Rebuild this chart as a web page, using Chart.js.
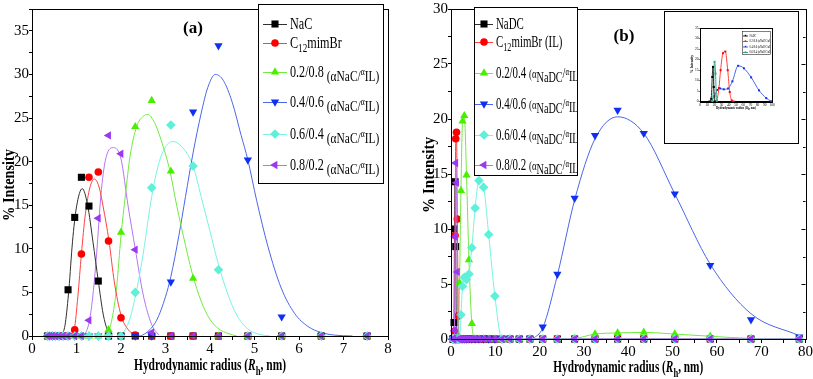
<!DOCTYPE html>
<html>
<head>
<meta charset="utf-8">
<title>Hydrodynamic radius distributions</title>
<script src="https://cdn.jsdelivr.net/npm/chart.js@4.4.1/dist/chart.umd.min.js"></script>
<style>
  html, body { margin: 0; padding: 0; background: #fff; }
  #page { position: relative; width: 813px; height: 379px; overflow: hidden; background: #fff; }
  .panel { position: absolute; top: 0; height: 379px; }
  #insetBox { position: absolute; left: 664px; top: 11px; width: 135px; height: 133px;
              border: 1.5px solid #000; box-sizing: border-box; background: #fff; }
  #insetBox div { position: absolute; left: 0; top: 0; width: 100%; height: 100%; }
</style>
</head>
<body>
<div id="page">
  <div class="panel" style="left:0;width:405px"><canvas id="chartA"></canvas></div>
  <div class="panel" style="left:405px;width:408px"><canvas id="chartB"></canvas></div>
  <div id="insetBox"><div><canvas id="chartInset"></canvas></div></div>
</div>
<script>
// ---------- panel (a): NaC + C12mimBr, size bins (nm) and % intensity ----------
const binsA  = [0.35, 0.40, 0.46, 0.53, 0.61, 0.70, 0.81, 0.96, 1.11, 1.28, 1.49, 1.72, 2.00, 2.32, 2.69, 3.12, 3.62, 4.19, 4.85, 5.61, 6.50, 7.53];
const nacA   = [0, 0, 0, 0, 0, 0, 5.3, 13.6, 18.2, 14.9, 6.3, 0, 0, 0, 0, 0, 0, 0, 0, 0, 0, 0];
const ilA    = [0, 0, 0, 0, 0, 0, 0, 0.7, 9.4, 18.2, 18.8, 10.9, 2.1, 0.1, 0, 0, 0, 0, 0, 0, 0, 0];
const mix28A = [0, 0, 0, 0, 0, 0, 0, 0, 0, 0, 0, 0.7, 11.9, 24.0, 27.0, 18.9, 6.6, 0, 0, 0, 0, 0];
const mix46A = [0, 0, 0, 0, 0, 0, 0, 0, 0, 0, 0, 0, 0, 0, 0, 6.2, 25.7, 33.3, 20.2, 2.2, 0, 0];
const mix64A = [0, 0, 0, 0, 0, 0, 0, 0, 0, 0, 0, 0, 0, 5.0, 17.0, 24.2, 19.5, 7.6, 0, 0, 0, 0];
const mix82A = [0, 0, 0, 0, 0, 0, 0, 0, 0, 1.8, 13.5, 23.0, 20.9, 9.9, 0.4, 0, 0, 0, 0, 0, 0, 0];

// fitted curves of panel (a)
const fitNacX = [0.68, 0.75, 0.83, 0.91, 1.00, 1.13, 1.25, 1.37, 1.49, 1.60, 1.70, 1.78];
const fitNacY = [0, 1.5, 5.4, 10.8, 14.8, 16.9, 15.0, 10.8, 6.3, 2.5, 0.6, 0];
const fitIlX  = [0.88, 0.95, 1.03, 1.11, 1.20, 1.30, 1.40, 1.50, 1.60, 1.73, 1.85, 2.00, 2.15, 2.30, 2.45];
const fitIlY  = [0, 0.7, 4.5, 9.4, 14.0, 17.0, 18.0, 17.2, 14.8, 10.9, 6.2, 2.4, 0.8, 0.2, 0];
const fit28X  = [1.60, 1.70, 1.80, 1.90, 2.00, 2.10, 2.20, 2.35, 2.50, 2.60, 2.75, 2.90, 3.10, 3.25, 3.40, 3.60, 3.80, 4.00, 4.20, 4.40, 4.60];
const fit28Y  = [0, 0.4, 2.0, 5.5, 11.5, 16.2, 20.5, 24.0, 25.2, 25.4, 24.5, 22.5, 18.9, 15.0, 11.5, 7.2, 4.0, 1.9, 0.8, 0.3, 0];
const fit46X  = [2.45, 2.60, 2.80, 3.00, 3.12, 3.30, 3.45, 3.62, 3.80, 3.95, 4.12, 4.30, 4.50, 4.70, 4.85, 5.05, 5.30, 5.60, 5.90, 6.20, 6.50, 6.80, 7.20];
const fit46Y  = [0, 0.5, 1.8, 4.5, 6.8, 11.5, 16.0, 21.0, 25.5, 28.5, 30.0, 29.3, 26.8, 23.0, 20.2, 15.5, 10.3, 5.5, 2.6, 1.1, 0.4, 0.1, 0];
const fit64X  = [2.00, 2.10, 2.20, 2.35, 2.50, 2.69, 2.85, 3.00, 3.17, 3.35, 3.50, 3.62, 3.80, 4.00, 4.19, 4.40, 4.60, 4.85, 5.10, 5.35];
const fit64Y  = [0, 0.8, 2.0, 5.2, 9.5, 16.0, 19.8, 21.7, 22.3, 21.8, 20.8, 19.5, 16.0, 12.0, 8.2, 4.8, 2.4, 0.8, 0.2, 0];
const fit82X  = [1.15, 1.22, 1.30, 1.38, 1.45, 1.56, 1.67, 1.83, 2.00, 2.16, 2.32, 2.50, 2.69, 2.85];
const fit82Y  = [0, 0.5, 2.0, 5.2, 9.3, 16.8, 20.6, 21.6, 20.3, 14.9, 10.0, 4.7, 1.3, 0.1];

// ---------- panel (b): NaDC + C12mimBr ----------
const binsB = [0.43, 0.50, 0.59, 0.68, 0.79,  0.92, 1.07, 1.24, 1.43, 1.66,  1.93, 2.25, 2.60, 3.00, 3.50,
               4.05, 4.70, 5.45, 6.30, 7.35,  8.50, 9.90, 11.5, 13.3, 15.4,  17.8, 20.7, 24.0, 27.9, 32.5,
               37.6, 43.5, 50.5, 58.5, 67.7,  78.6];
const nadcB  = [0, 0, 0, 1.5, 10.0,  14.3, 8.4, 0, 0, 0,  0, 0, 0, 0, 0,  0, 0, 0, 0, 0,  0, 0, 0, 0, 0,  0, 0, 0, 0, 0,  0, 0, 0, 0, 0,  0];
const ilB    = [0, 0, 0, 0, 0.7,  9.4, 18.2, 18.8, 10.9, 2.1,  0, 0, 0, 0, 0,  0, 0, 0, 0, 0,  0, 0, 0, 0, 0,  0, 0, 0, 0, 0,  0, 0, 0, 0, 0,  0];
const mix24B = [0, 0, 0, 0, 0,  0, 0, 0, 0, 0.3,  5.1, 13.5, 19.8, 20.3, 14.9,  7.2, 1.4, 0, 0, 0,  0, 0, 0, 0, 0,  0, 0, 0, 0.05, 0.45,  0.55, 0.6, 0.45, 0.25, 0.05,  0];
const mix46B = [0, 0, 0, 0, 0,  0, 0, 0, 0, 0,  0, 0, 0, 0, 0,  0, 0, 0, 0, 0,  0, 0, 0, 0, 0,  0, 1.1, 5.9, 12.8, 18.5,  20.8, 18.7, 13.2, 6.7, 1.75,  0.2];
const mix64B = [0, 0, 0, 0, 0,  0, 0, 0, 0, 0,  0, 2.2, 4.8, 5.6, 5.4,  5.9, 8.3, 11.9, 14.4, 13.8,  9.5, 3.9, 0, 0, 0,  0, 0, 0, 0, 0,  0, 0, 0, 0, 0,  0];
const mix82B = [0, 0, 0, 0, 0.8,  9.3, 16.0, 14.2, 6.1, 0,  0, 0, 0, 0, 0,  0, 0, 0, 0, 0,  0, 0, 0, 0, 0,  0, 0, 0, 0, 0,  0, 0, 0, 0, 0,  0];
const fitB46X = [18.5, 20.7, 24.0, 28.0, 32.5, 37.6, 43.5, 50.5, 58.5, 67.7, 78.6];
const fitB46Y = [0, 1.0, 5.8, 12.8, 18.2, 20.2, 18.7, 13.2, 6.8, 2.3, 0.3];

// ---------- inset of panel (b) ----------
const insBlackX = [13, 15.5, 17, 18, 19.2, 20.6];
const insBlackY = [0, 1.3, 11.7, 16.5, 6.9, 0];
const insTealX  = [17.5, 18.8, 20.2, 21.6, 22.8];
const insTealY  = [0, 7, 18.9, 13.3, 0];
const insRedX   = [23.5, 26.3, 28.6, 31.9, 35.2, 38.5, 41.3, 44.1, 46.9];
const insRedY   = [0, 6.4, 14.9, 23.0, 23.8, 14.9, 4.5, 0.5, 0];
const insBlueX  = [16, 20, 24, 28, 33, 39, 45, 53, 61, 71, 82, 92, 99];
const insBlueY  = [0, 2.5, 5.5, 6.2, 5.8, 6.2, 9.6, 17.0, 15.8, 11.5, 5.3, 1.6, 0.1];

// colours
const cBlack = '#000000', lBlack = '#303030';
const cRed = '#ff0000', lRed = '#ff4040';
const cGreen = '#48f000', lGreen = '#70ea40';
const cBlue = '#0f30f0', lBlue = '#4a66ea';
const cCyan = '#5ef0d8', lCyan = '#78f2e2';
const cPurple = '#9b38f0', lPurple = '#b574f2';
const cTeal = '#2fa884';

const serif = "'Liberation Serif', 'Times New Roman', serif";
Chart.defaults.font.family = serif;
Chart.defaults.color = '#000';

function pts(xs, ys) {
  return xs.map((x, i) => ({ x: x, y: ys[i] }));
}

function fontStr(size, bold, italic) {
  return (italic ? 'italic ' : '') + (bold ? 'bold ' : '') + size + 'px ' + serif;
}

// text with sub/superscript pieces, squeezed horizontally
function drawRich(ctx, x, y, parts, opt) {
  const base = opt.size || 15;
  let total = 0;
  parts.forEach(p => {
    ctx.font = fontStr(p.size || base, p.b !== undefined ? p.b : opt.bold, p.i);
    p.w = ctx.measureText(p.t).width;
    total += p.w;
  });
  const sx = opt.width ? opt.width / total : (opt.sx || 1);
  ctx.save();
  ctx.translate(x, y);
  if (opt.rotate) ctx.rotate(opt.rotate);
  ctx.scale(sx, 1);
  ctx.textAlign = 'left';
  ctx.textBaseline = 'alphabetic';
  ctx.fillStyle = '#000';
  let cx = opt.center ? -total / 2 : 0;
  parts.forEach(p => {
    ctx.font = fontStr(p.size || base, p.b !== undefined ? p.b : opt.bold, p.i);
    ctx.fillText(p.t, cx, p.dy || 0);
    cx += p.w;
  });
  ctx.restore();
}

function markers(xs, ys, color, style, rot, r, order, lineColor) {
  return {
    data: pts(xs, ys), order: order, clip: false,
    showLine: !!lineColor, borderColor: lineColor || color, borderWidth: 1,
    cubicInterpolationMode: 'monotone',
    pointStyle: style, pointRotation: rot, pointRadius: r,
    pointBackgroundColor: color, pointBorderColor: color, pointBorderWidth: 0
  };
}

function fitLine(xs, ys, color, order) {
  return {
    data: pts(xs, ys), order: order, clip: false, showLine: true,
    borderColor: color, borderWidth: 1, pointRadius: 0,
    cubicInterpolationMode: 'monotone'
  };
}

function axis(min, max, step, major, o) {
  return {
    type: 'linear', min: min, max: max,
    ticks: {
      stepSize: step, autoSkip: false, maxRotation: 0, padding: o.pad || 0, color: '#000',
      font: { family: serif, size: o.fs },
      callback: v => Math.abs(v / major - Math.round(v / major)) < 1e-6 ? String(Math.round(v * 100) / 100) : ''
    },
    grid: { drawOnChartArea: false, drawTicks: true, tickLength: o.tl, color: '#000', tickColor: '#000', tickWidth: o.tw || 1 },
    border: { display: true, color: '#000', width: 1 },
    afterFit: o.fit
  };
}

function drawLegend(ctx, L) {
  ctx.save();
  ctx.fillStyle = '#fff';
  ctx.fillRect(L.x0, L.y0, L.x1 - L.x0, L.y1 - L.y0);
  ctx.strokeStyle = '#000';
  ctx.lineWidth = L.lw || 1;
  ctx.strokeRect(L.x0 + 0.5, L.y0 + 0.5, L.x1 - L.x0, L.y1 - L.y0);
  ctx.beginPath();
  ctx.rect(L.x0, L.y0, L.x1 - L.x0, L.y1 - L.y0);
  ctx.clip();
  L.rows.forEach(row => {
    const ds = row.ds;
    ctx.strokeStyle = row.line;
    ctx.lineWidth = 1;
    ctx.beginPath();
    ctx.moveTo(L.s0, row.y + 0.5);
    ctx.lineTo(L.s1, row.y + 0.5);
    ctx.stroke();
    ctx.fillStyle = ds.pointBackgroundColor;
    Chart.helpers.drawPoint(ctx, {
      pointStyle: ds.pointStyle, rotation: ds.pointRotation,
      radius: L.mr || ds.pointRadius, borderWidth: 0
    }, (L.s0 + L.s1) / 2, row.y);
    drawRich(ctx, L.tx, row.y + L.base, row.parts, { size: L.fs, sx: L.sx });
  });
  ctx.restore();
}

function decor(cfg) {
  return {
    id: 'decor',
    afterDraw(chart) {
      const ctx = chart.ctx;
      const a = chart.chartArea;
      ctx.save();
      ctx.strokeStyle = '#000';
      ctx.lineWidth = 1;
      ctx.strokeRect(Math.round(a.left) + 0.5, Math.round(a.top) + 0.5,
                     Math.round(a.right - a.left), Math.round(a.bottom - a.top));
      if (cfg.mirror) {
        const ys = chart.scales.y;
        ys.ticks.forEach(t => {
          const py = Math.round(ys.getPixelForValue(t.value)) + 0.5;
          const len = t.label ? cfg.mirror : cfg.mirror * 0.6;
          ctx.beginPath();
          ctx.moveTo(a.right, py);
          ctx.lineTo(a.right - len, py);
          ctx.stroke();
        });
      }
      ctx.restore();
      if (cfg.legend) drawLegend(ctx, cfg.legend);
      if (cfg.tag) drawRich(ctx, cfg.tag.x, cfg.tag.y, [{ t: cfg.tag.t }], { size: 17, bold: true, center: true });
      const cxm = (a.left + a.right) / 2;
      drawRich(ctx, cxm, cfg.xt.y, cfg.xt.parts, { size: cfg.xt.fs, bold: true, center: true, width: cfg.xt.w });
      drawRich(ctx, cfg.yt.x, cfg.yt.y, [{ t: cfg.yt.t }], { size: cfg.yt.fs, bold: true, center: true, width: cfg.yt.w, rotate: -Math.PI / 2 });
    }
  };
}

function xTitle(fs) {
  return [
    { t: 'Hydrodynamic radius (' },
    { t: 'R', i: true },
    { t: 'h', size: Math.round(fs * 0.75), dy: fs * 0.27 },
    { t: ', nm)' }
  ];
}

function mixParts(num, sys) {
  return [
    { t: num + ' ' },
    { t: '(α' + sys + '/', size: 15, dy: 4 },
    { t: 'α', size: 10, dy: -2 },
    { t: 'IL)', size: 15, dy: 4 }
  ];
}

const base = {
  responsive: true, maintainAspectRatio: false, animation: false,
  devicePixelRatio: 1, events: [],
  plugins: { legend: { display: false }, tooltip: { enabled: false } }
};

// ---------- chart (a) ----------
const aNac = markers(binsA, nacA, cBlack, 'rect', 0, 5, 5);
const aIl  = markers(binsA, ilA, cRed, 'circle', 0, 3.8, 4);
const a28  = markers(binsA, mix28A, cGreen, 'triangle', 0, 4.8, 3);
const a46  = markers(binsA, mix46A, cBlue, 'triangle', 180, 4.8, 2);
const a64  = markers(binsA, mix64A, cCyan, 'rectRot', 0, 4.8, 1);
const a82  = markers(binsA, mix82A, cPurple, 'triangle', -90, 4.8, 0);

new Chart(document.getElementById('chartA'), {
  type: 'scatter',
  data: {
    datasets: [
      aNac, aIl, a28, a46, a64, a82,
      fitLine(fitNacX, fitNacY, lBlack, 10),
      fitLine(fitIlX, fitIlY, lRed, 11),
      fitLine(fit28X, fit28Y, lGreen, 12),
      fitLine(fit46X, fit46Y, lBlue, 13),
      fitLine(fit64X, fit64Y, lCyan, 14),
      fitLine(fit82X, fit82Y, lPurple, 15)
    ]
  },
  options: Object.assign({}, base, {
    layout: { autoPadding: false, padding: { left: 0, right: 17, top: 3, bottom: 0 } },
    scales: {
      x: axis(0, 8, 0.5, 1, { fs: 15, tl: 4, fit: s => { s.height = 43; } }),
      y: axis(0, 37.5, 2.5, 5, { fs: 15, tl: 3, fit: s => { s.width = 32; } })
    }
  }),
  plugins: [decor({
    legend: {
      x0: 258, y0: 4, x1: 383, y1: 183, s0: 263, s1: 287, tx: 290, base: 5, fs: 16, sx: 0.76,
      rows: [
        { y: 24, ds: aNac, line: lBlack, parts: [{ t: 'NaC' }] },
        { y: 43, ds: aIl, line: lRed, parts: [{ t: 'C' }, { t: '12', size: 12, dy: 4 }, { t: 'mimBr' }] },
        { y: 72, ds: a28, line: lGreen, parts: mixParts('0.2/0.8', 'NaC') },
        { y: 102, ds: a46, line: lBlue, parts: mixParts('0.4/0.6', 'NaC') },
        { y: 134, ds: a64, line: lCyan, parts: mixParts('0.6/0.4', 'NaC') },
        { y: 165, ds: a82, line: lPurple, parts: mixParts('0.8/0.2', 'NaC') }
      ]
    },
    tag: { t: '(a)', x: 193, y: 33 },
    xt: { y: 370, fs: 17, w: 152, parts: xTitle(17) },
    yt: { x: 14, y: 185, fs: 17, w: 72, t: '% Intensity' }
  })]
});

// ---------- chart (b) ----------
const bNadc = markers(binsB, nadcB, cBlack, 'rect', 0, 5, 5, lBlack);
const bIl   = markers(binsB, ilB, cRed, 'circle', 0, 3.8, 4, lRed);
const b24   = markers(binsB, mix24B, cGreen, 'triangle', 0, 4.8, 3, lGreen);
const b46   = markers(binsB, mix46B, cBlue, 'triangle', 180, 4.8, 2);
const b64   = markers(binsB, mix64B, cCyan, 'rectRot', 0, 4.8, 1, lCyan);
const b82   = markers(binsB, mix82B, cPurple, 'triangle', -90, 4.8, 0, lPurple);

function mixPartsB(num) {
  return [
    { t: num + ' ' },
    { t: '(α', size: 13 },
    { t: 'NaDC', size: 15, dy: 4 },
    { t: '/', size: 15 },
    { t: 'α', size: 10, dy: -3 },
    { t: 'IL)', size: 15, dy: 3 }
  ];
}

new Chart(document.getElementById('chartB'), {
  type: 'scatter',
  data: {
    datasets: [bNadc, bIl, b24, b46, b64, b82, fitLine(fitB46X, fitB46Y, lBlue, 10)]
  },
  options: Object.assign({}, base, {
    layout: { autoPadding: false, padding: { left: 0, right: 7, top: 7, bottom: 0 } },
    scales: {
      x: axis(0, 80, 5, 10, { fs: 15, tl: 4, fit: s => { s.height = 40; } }),
      y: axis(0, 30, 2.5, 5, { fs: 15, tl: 3, fit: s => { s.width = 46; } })
    }
  }),
  plugins: [decor({
    mirror: 4,
    legend: {
      x0: 69, y0: 7, x1: 172, y1: 175, s0: 70, s1: 88, tx: 91, base: 5, fs: 16, sx: 0.68,
      rows: [
        { y: 24, ds: bNadc, line: lBlack, parts: [{ t: 'NaDC' }] },
        { y: 42, ds: bIl, line: lRed, parts: [{ t: 'C' }, { t: '12', size: 12, dy: 4 }, { t: 'mimBr (IL)' }] },
        { y: 73, ds: b24, line: lGreen, parts: mixPartsB('0.2/0.4') },
        { y: 104, ds: b46, line: lBlue, parts: mixPartsB('0.4/0.6') },
        { y: 135, ds: b64, line: lCyan, parts: mixPartsB('0.6/0.4') },
        { y: 165, ds: b82, line: lPurple, parts: mixPartsB('0.8/0.2') }
      ]
    },
    tag: { t: '(b)', x: 219, y: 41 },
    xt: { y: 372, fs: 17, w: 150, parts: xTitle(17) },
    yt: { x: 29, y: 175, fs: 17, w: 76, t: '% Intensity' }
  })]
});

// ---------- inset ----------
const iBlack = markers(insBlackX, insBlackY, cBlack, 'rect', 0, 1.4, 0, lBlack);
const iRed   = markers(insRedX, insRedY, cRed, 'rect', 0, 1.4, 1, lRed);
const iBlue  = markers(insBlueX, insBlueY, cBlue, 'rect', 0, 1.4, 2, lBlue);
const iTeal  = markers(insTealX, insTealY, cTeal, 'rect', 0, 1.4, 0, cTeal);

new Chart(document.getElementById('chartInset'), {
  type: 'scatter',
  data: { datasets: [iBlack, iTeal, iRed, iBlue] },
  options: Object.assign({}, base, {
    layout: { autoPadding: false, padding: { left: 0, right: 26, top: 16, bottom: 0 } },
    scales: {
      x: axis(0, 100, 10, 10, { fs: 3.5, tl: 1.5, tw: 0.5, fit: s => { s.height = 41.5; } }),
      y: axis(0, 35, 5, 5, { fs: 3.5, tl: 1.5, tw: 0.5, fit: s => { s.width = 35; } })
    }
  }),
  plugins: [decor({
    legend: {
      x0: 77, y0: 19, x1: 105, y1: 42, s0: 78, s1: 83, tx: 84.5, base: 1, fs: 3, sx: 0.9, mr: 1, lw: 0.5,
      rows: [
        { y: 23.5, ds: iBlack, line: lBlack, parts: [{ t: 'NaDC' }] },
        { y: 29, ds: iRed, line: lRed, parts: [{ t: '0.2/0.8 (αNaDC/αIL)' }] },
        { y: 34.5, ds: iBlue, line: lBlue, parts: [{ t: '0.4/0.6 (αNaDC/αIL)' }] },
        { y: 40, ds: iTeal, line: cTeal, parts: [{ t: '0.6/0.4 (αNaDC/αIL)' }] }
      ]
    },
    xt: { y: 97, fs: 3.5, w: 40, parts: xTitle(3.5) },
    yt: { x: 28, y: 52, fs: 3.5, w: 18, t: '% Intensity' }
  })]
});
</script>
</body>
</html>
